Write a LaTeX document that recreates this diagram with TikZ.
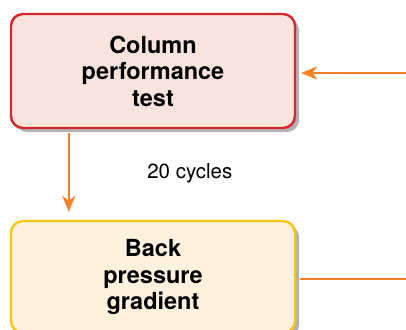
\documentclass[tikz,border=0pt]{standalone}
\usepackage{fontspec}
\setmainfont{TeX Gyre Heros}
\usepackage{xcolor}
\usetikzlibrary{arrows.meta, positioning, calc, shadows}

\definecolor{boxred}{RGB}{214,38,46}
\definecolor{fillred}{RGB}{248,228,220}
\definecolor{boxyellow}{RGB}{255,197,10}
\definecolor{fillyellow}{RGB}{254,242,222}
\definecolor{arrorange}{RGB}{245,128,37}

\tikzset{
  %% Rounded process box
  pbox/.style 2 args={
    rectangle, rounded corners=12pt,
    draw=#1, fill=#2, line width=2.4pt,
    minimum width=284pt, align=center,
    font=\fontsize{23.5}{26.5}\selectfont\bfseries,
    drop shadow={shadow xshift=4pt, shadow yshift=-4pt,
                 fill=black!60, opacity=.5}
  },
  %% Arrow
  arr/.style={-{Stealth[length=16pt,width=13pt,inset=5pt]},
              draw=arrorange, line width=2.3pt},
  %% Plain connector
  ln/.style={draw=arrorange, line width=2.3pt},
}

\begin{document}
\begin{tikzpicture}[x=1pt, y=-1pt]
  \useasboundingbox (0,0) rectangle (406,329);

  %% ---- Boxes ----
  \node[pbox={boxred}{fillred}, minimum height=114pt] (perf) at (153,71)
       {Column\\performance\\test};
  \node[pbox={boxyellow}{fillyellow}, minimum height=112pt] (back) at (153,277)
       {Back\\pressure\\gradient};

  %% ---- Connectors ----
  \coordinate (inR)  at (406,73);
  \coordinate (outR) at (406,279);

  \draw[arr, shorten >=5pt] (inR) -- ([yshift=-2pt]perf.east);
  \draw[arr, shorten <=4pt, shorten >=8pt]
       ([xshift=59pt]perf.south west) -- ([xshift=59pt]back.north west)
       node[midway, anchor=west, xshift=74pt, yshift=1pt,
            font=\fontsize{20.5}{22}\selectfont] (cyc) {20 cycles};
  \draw[ln, shorten <=4pt] ([yshift=-2pt]back.east) -- (outR);

\end{tikzpicture}
\end{document}
